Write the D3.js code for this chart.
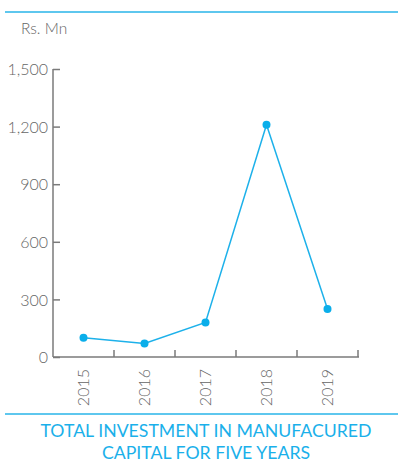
<!DOCTYPE html>
<html>
<head>
<meta charset="utf-8">
<script src="https://cdn.jsdelivr.net/npm/d3@7/dist/d3.min.js"></script>
<style>
  html, body { margin: 0; padding: 0; background: #fff; }
  svg { display: block; }
  text { font-family: Lato, "Open Sans", sans-serif; }
</style>
</head>
<body>
<div id="chart"></div>
<script>
// Investment in manufactured capital, Rs. Mn
const years = ["2015", "2016", "2017", "2018", "2019"];
const investment = [100, 70, 180, 1210, 250];
const yTicks = [0, 300, 600, 900, 1200, 1500];
const unitLabel = "Rs. Mn";
const titleLines = ["TOTAL INVESTMENT IN MANUFACURED", "CAPITAL FOR FIVE YEARS"];

const W = 398, H = 462;
const blue = "#1db1ea";
const axisGrey = "#7a7a7a";
const textGrey = "#666666";

const svg = d3.select("#chart").append("svg")
  .attr("width", W).attr("height", H);

// rules above and below the chart
svg.append("line").attr("x1", 5).attr("x2", W).attr("y1", 12).attr("y2", 12)
  .attr("stroke", "#29b5e8").attr("stroke-width", 1.5);
svg.append("line").attr("x1", 5).attr("x2", W).attr("y1", 414).attr("y2", 414)
  .attr("stroke", "#29b5e8").attr("stroke-width", 1.5);

const x = d3.scaleBand().domain(years).range([53, 358]);
const y = d3.scaleLinear().domain([0, 1500]).range([357, 69]);

// y axis: ticks point into the plot
const yAxis = svg.append("g").attr("transform", "translate(53,0)")
  .call(d3.axisRight(y).tickValues(yTicks).tickSize(7).tickFormat(d3.format(",")));
yAxis.select(".domain").attr("d", `M0,${y(1500)}V${y(0)}`)
  .attr("stroke", axisGrey).attr("stroke-width", 1.5);
yAxis.selectAll(".tick line").attr("stroke", axisGrey).attr("stroke-width", 1.5);
yAxis.selectAll(".tick text")
  .attr("x", -5).attr("text-anchor", "end").attr("dy", "0.36em")
  .attr("fill", textGrey).attr("font-size", 16).attr("font-weight", 300);

// x axis: baseline with upward ticks at band boundaries
const xg = svg.append("g");
xg.append("line").attr("x1", 53).attr("x2", 359)
  .attr("y1", y(0)).attr("y2", y(0))
  .attr("stroke", axisGrey).attr("stroke-width", 1.5);
xg.selectAll("line.tick").data(years.slice(1).concat(["end"]))
  .enter().append("line").attr("class", "tick")
  .attr("x1", (d, i) => i < years.length - 1 ? x(d) : x.range()[1])
  .attr("x2", (d, i) => i < years.length - 1 ? x(d) : x.range()[1])
  .attr("y1", y(0)).attr("y2", y(0) - 7)
  .attr("stroke", axisGrey).attr("stroke-width", 1.5);
xg.selectAll("text").data(years).enter().append("text")
  .attr("transform", d => `translate(${x(d) + x.bandwidth() / 2},${y(0) + 12}) rotate(-90)`)
  .attr("text-anchor", "end").attr("dy", "0.36em")
  .attr("fill", textGrey).attr("font-size", 16).attr("font-weight", 300)
  .text(d => d);

// unit label
svg.append("text").attr("x", 21).attr("y", 34)
  .attr("fill", textGrey).attr("font-size", 15.5).attr("font-weight", 300)
  .text(unitLabel);

// series line and markers
const pts = years.map((d, i) => [x(d) + x.bandwidth() / 2, y(investment[i])]);
svg.append("path").datum(pts)
  .attr("d", d3.line())
  .attr("fill", "none").attr("stroke", blue).attr("stroke-width", 1.5);
svg.selectAll("circle.pt").data(pts).enter().append("circle")
  .attr("class", "pt").attr("cx", d => d[0]).attr("cy", d => d[1]).attr("r", 4)
  .attr("fill", "#0aaeea");

// title
svg.append("g").selectAll("text").data(titleLines).enter().append("text")
  .attr("x", 206).attr("y", (d, i) => 437 + i * 21.5)
  .attr("text-anchor", "middle").attr("fill", "#1ab0ea")
  .attr("font-size", 17.7)
  .text(d => d);
</script>
</body>
</html>
